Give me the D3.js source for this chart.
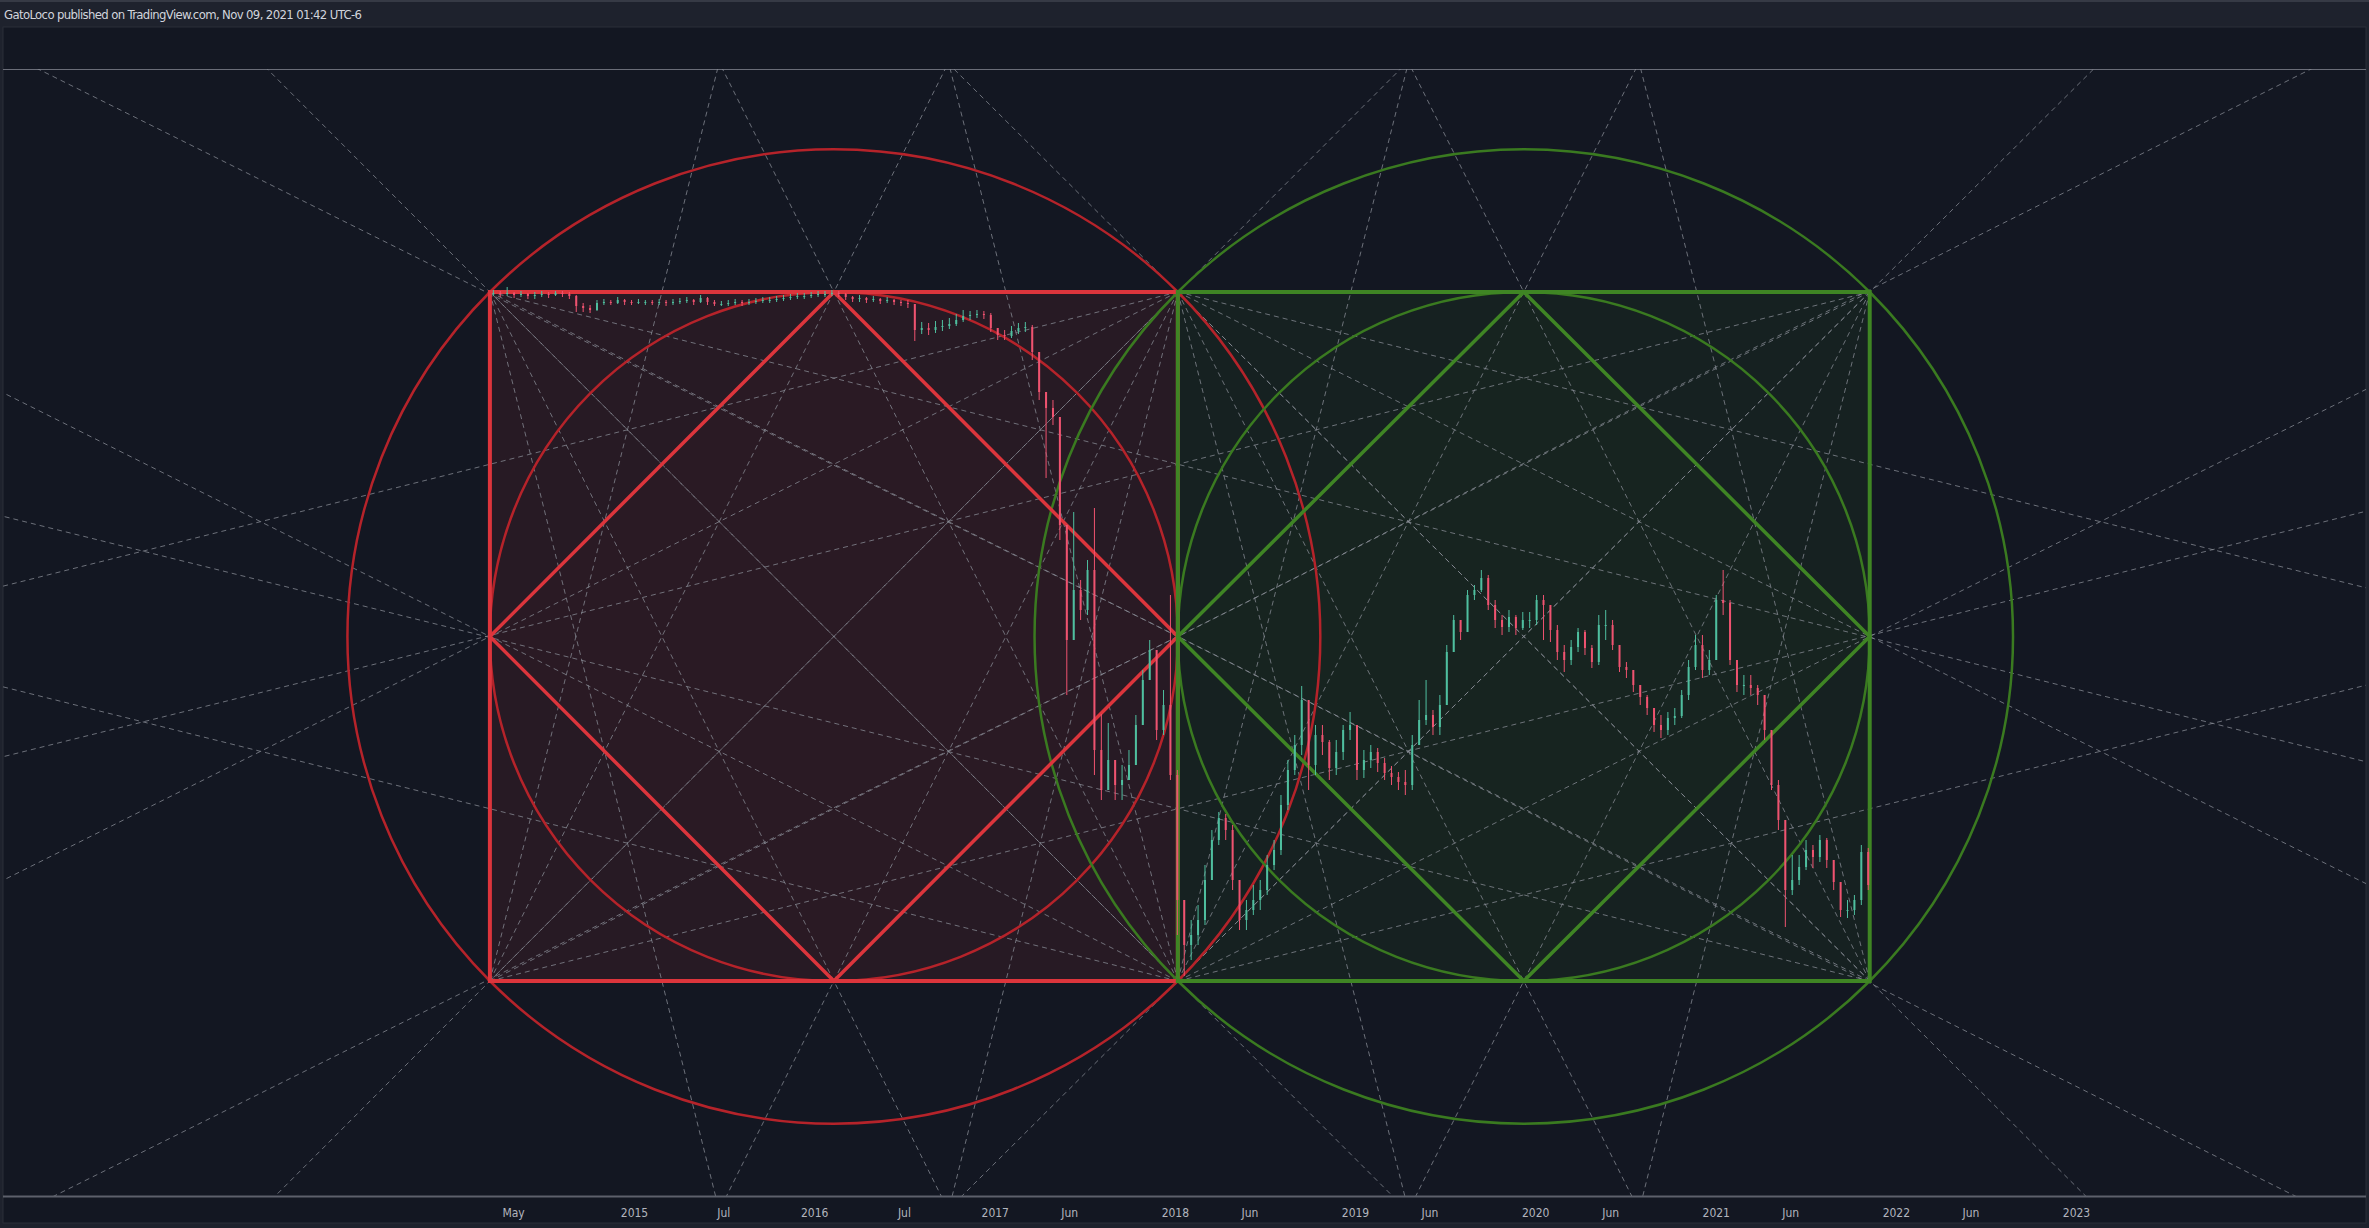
<!DOCTYPE html>
<html>
<head>
<meta charset="utf-8">
<script src="https://cdn.jsdelivr.net/npm/d3@7"></script>
<style>
  html, body { margin: 0; padding: 0; background: #131722; overflow: hidden; }
  svg { display: block; }
</style>
</head>
<body>
<script>
const width = 2369;
const height = 1228;

// time axis labels
const tickDates = ["2014-05-01", "2015-01-01", "2015-07-01", "2016-01-01", "2016-07-01", "2017-01-01",
  "2017-06-01", "2018-01-01", "2018-06-01", "2019-01-01", "2019-06-01", "2020-01-01",
  "2020-06-01", "2021-01-01", "2021-06-01", "2022-01-01", "2022-06-01", "2023-01-01"];
const tickLabels = ["May", "2015", "Jul", "2016", "Jul", "2017", "Jun", "2018", "Jun", "2019",
  "Jun", "2020", "Jun", "2021", "Jun", "2022", "Jun", "2023"];

// the two boxes: red one from boxDates[0] to [1], green one from [1] to [2]
const boxDates = ["2014-03-15", "2018-01-07", "2021-11-09"];
const boxPrices = [28.9, 97.8];
const fanRatios = [0.25, 0.5, 1];

// two-week candles (opens = previous close)
const candleStart = "2014-03-15";
const candleDays = 14;
const closes = [
  97.7, 97.6, 97.7, 97.5, 97.6, 97.4, 97.5, 97.6, 97.5, 97.7, 97.6, 97.4,
  96.4, 96.2, 96.0, 96.7, 96.8, 96.7, 97.0, 96.8, 96.7, 96.8, 96.8, 96.7,
  96.8, 96.7, 96.8, 96.9, 97.0, 96.8, 97.2, 96.8, 96.6, 96.6, 96.7, 96.8,
  96.7, 96.8, 96.9, 97.0, 97.0, 97.1, 97.2, 97.3, 97.4, 97.4, 97.5, 97.6,
  97.6, 97.7, 97.6, 97.3, 97.1, 97.2, 97.0, 97.1, 96.9, 97.0, 96.8, 96.7,
  96.6, 94.0, 94.2, 94.0, 94.3, 94.4, 94.6, 95.0, 95.4, 95.5, 95.6, 95.5,
  94.2, 93.5, 93.4, 93.9, 94.2, 94.3, 91.8, 87.8, 86.2, 85.3, 74.5, 63.0,
  68.0, 66.0, 70.0, 52.0, 48.0, 51.0, 48.5, 49.0, 50.5, 54.5, 59.0, 62.0,
  54.0, 56.5, 49.5, 37.0, 32.5, 33.5, 35.0, 39.0, 43.0, 45.2, 44.0, 39.0,
  35.0, 36.0, 37.0, 38.0, 40.5, 42.0, 46.5, 50.0, 52.5, 57.0, 50.5, 53.5,
  52.8, 50.2, 51.8, 54.0, 54.5, 50.0, 51.0, 51.8, 50.7, 49.7, 49.3, 48.8,
  48.5, 52.5, 55.0, 55.5, 54.3, 56.5, 61.8, 65.0, 63.8, 67.5, 68.0, 69.2,
  66.5, 65.0, 64.3, 65.3, 64.2, 65.0, 65.0, 67.0, 66.5, 64.0, 61.8, 61.0,
  62.3, 63.8, 62.2, 60.8, 64.5, 64.5, 62.5, 60.3, 60.0, 58.5, 57.3, 56.2,
  54.5, 54.0, 55.2, 55.4, 57.5, 60.3, 62.5, 60.0, 61.0, 67.0, 66.7, 61.0,
  58.5, 58.5, 58.2, 57.5, 54.0, 48.5, 45.0, 38.0, 39.0, 40.3, 42.0, 41.3,
  43.0, 41.0, 38.8, 36.0, 36.0, 37.0, 41.8, 38.5
];
const highs = [
  98.0, 97.9, 98.3, 97.8, 97.9, 97.7, 97.8, 97.9, 97.8, 97.9, 97.9, 97.8,
  97.5, 96.7, 96.5, 97.0, 97.1, 97.0, 97.3, 97.1, 97.0, 97.1, 97.0, 97.0,
  97.1, 97.0, 97.1, 97.2, 97.3, 97.1, 97.5, 97.3, 97.0, 96.9, 97.0, 97.1,
  97.0, 97.1, 97.2, 97.3, 97.3, 97.4, 97.5, 97.6, 97.7, 97.7, 97.8, 97.9,
  97.9, 98.0, 97.9, 97.7, 97.4, 97.5, 97.3, 97.4, 97.2, 97.3, 97.1, 97.0,
  97.0, 95.2, 94.8, 94.7, 94.9, 95.0, 95.2, 95.6, 96.0, 95.9, 96.0, 95.9,
  95.7, 94.2, 94.0, 94.4, 94.7, 94.8, 94.5, 89.5, 87.5, 87.0, 85.0, 71.0,
  75.8, 69.0, 71.0, 76.2, 55.6, 54.7, 51.0, 50.5, 52.0, 55.5, 60.0, 63.0,
  62.0, 58.0, 67.5, 50.0, 37.0, 35.0, 36.5, 40.5, 44.0, 45.8, 45.6, 44.5,
  39.0, 37.0, 38.5, 39.0, 41.5, 43.0, 47.5, 51.0, 53.5, 58.4, 57.0, 54.5,
  54.5, 53.0, 53.0, 54.5, 55.8, 54.5, 52.0, 52.5, 52.2, 51.2, 50.4, 49.8,
  50.0, 53.5, 57.0, 59.0, 56.0, 57.5, 62.5, 65.5, 65.0, 68.0, 68.5, 70.0,
  69.5, 67.0, 65.5, 66.0, 65.5, 65.8, 65.8, 67.5, 67.5, 65.0, 64.5, 62.5,
  63.0, 64.2, 64.0, 62.5, 65.5, 66.0, 65.0, 61.0, 60.8, 60.0, 58.5, 57.5,
  56.0, 55.5, 55.8, 56.2, 58.0, 61.0, 63.5, 63.5, 62.0, 67.5, 70.0, 67.0,
  61.0, 59.5, 59.5, 58.5, 57.0, 54.0, 49.0, 45.0, 41.5, 41.5, 43.0, 42.5,
  43.5, 43.2, 41.0, 38.5, 37.0, 37.5, 42.5, 42.2
];
const lows = [
  97.4, 97.3, 97.4, 97.2, 97.3, 97.1, 97.1, 97.3, 97.2, 97.4, 97.3, 97.1,
  95.8, 95.8, 95.7, 95.9, 96.5, 96.5, 96.6, 96.5, 96.5, 96.6, 96.5, 96.5,
  96.5, 96.4, 96.5, 96.6, 96.7, 96.5, 96.7, 96.5, 96.4, 96.4, 96.4, 96.5,
  96.4, 96.5, 96.6, 96.7, 96.7, 96.8, 96.9, 97.0, 97.1, 97.1, 97.2, 97.3,
  97.3, 97.4, 97.3, 97.0, 96.8, 96.8, 96.7, 96.8, 96.6, 96.7, 96.5, 96.4,
  96.2, 92.9, 93.6, 93.5, 93.7, 93.9, 94.1, 94.4, 94.8, 95.0, 95.2, 95.1,
  93.8, 93.0, 93.0, 93.2, 93.6, 93.8, 91.0, 87.0, 79.2, 84.5, 73.0, 57.5,
  66.0, 65.0, 65.5, 49.5, 47.0, 48.0, 47.0, 47.0, 49.0, 50.5, 55.5, 59.0,
  53.0, 53.5, 49.0, 33.5, 29.4, 31.0, 32.5, 34.5, 39.0, 42.5, 43.0, 38.0,
  34.0, 34.0, 35.5, 36.0, 37.5, 40.0, 41.5, 46.0, 49.5, 51.5, 48.0, 49.5,
  51.5, 49.0, 49.5, 51.0, 53.0, 49.0, 49.2, 50.2, 49.8, 49.0, 48.5, 48.0,
  47.5, 48.0, 52.5, 54.5, 53.5, 53.5, 56.5, 62.0, 63.0, 63.8, 67.0, 67.8,
  66.0, 64.2, 63.5, 63.8, 63.5, 64.0, 64.2, 64.5, 63.0, 62.8, 61.0, 59.8,
  60.5, 61.8, 61.5, 60.2, 60.5, 63.0, 62.0, 59.8, 59.2, 57.8, 56.5, 55.5,
  53.8, 53.2, 53.5, 54.5, 55.2, 57.0, 60.0, 59.2, 59.5, 61.0, 65.5, 60.5,
  57.8, 57.5, 57.5, 56.5, 53.0, 48.0, 44.0, 34.3, 37.5, 38.5, 40.0, 40.2,
  40.8, 40.2, 38.0, 35.3, 35.2, 35.5, 36.5, 38.0
];

const parse = d3.utcParse("%Y-%m-%d");
const pane = { left: 3, right: 2366, top: 27, bottom: 1197, drawTop: 69 };

const x = d3.scaleUtc()
  .domain([parse("2015-01-01"), parse("2023-01-01")])
  .range([634, 2076]);
const y = d3.scaleLinear()
  .domain(boxPrices)
  .range([981, 292]);

const svg = d3.select("body").append("svg")
  .attr("width", width)
  .attr("height", height);

// frame
svg.append("rect").attr("width", width).attr("height", height).attr("fill", "#1e222d");
svg.append("rect").attr("width", width).attr("height", 2).attr("fill", "#363a45");
svg.append("rect")
  .attr("x", pane.left).attr("y", pane.top)
  .attr("width", pane.right - pane.left).attr("height", height - 5 - pane.top)
  .attr("fill", "#131722")
  .attr("stroke", "#2a2e39");

svg.append("text")
  .attr("x", 4).attr("y", 19)
  .attr("fill", "#d1d4dc")
  .attr("font-family", "'Liberation Sans Narrow', 'DejaVu Sans Condensed', sans-serif")
  .attr("font-size", "13px")
  .attr("textLength", 358)
  .text("GatoLoco published on TradingView.com, Nov 09, 2021 01:42 UTC-6");

svg.append("defs").append("clipPath").attr("id", "plot")
  .append("rect")
  .attr("x", pane.left).attr("y", pane.drawTop)
  .attr("width", pane.right - pane.left).attr("height", pane.bottom - pane.drawTop);

svg.append("line")
  .attr("x1", pane.left).attr("x2", pane.right)
  .attr("y1", pane.drawTop + .5).attr("y2", pane.drawTop + .5)
  .attr("stroke", "#6a6d78");

const plot = svg.append("g").attr("clip-path", "url(#plot)");

const boxes = [
  { from: boxDates[0], to: boxDates[1], stroke: "#dc353c", ring: "#b5232a",
    fill: "rgba(217,54,62,0.10)", inner: "rgba(217,54,62,0.02)" },
  { from: boxDates[1], to: boxDates[2], stroke: "#3f8524", ring: "#3a7a20",
    fill: "rgba(60,140,35,0.09)", inner: "rgba(60,140,35,0.04)" }
];

boxes.forEach(b => {
  b.x0 = x(parse(b.from));
  b.x1 = x(parse(b.to));
  b.y0 = y(boxPrices[1]);
  b.y1 = y(boxPrices[0]);
  b.cx = (b.x0 + b.x1) / 2;
  b.cy = (b.y0 + b.y1) / 2;
});

// fills
const fills = plot.append("g");
boxes.forEach(b => {
  fills.append("rect")
    .attr("x", b.x0).attr("y", b.y0)
    .attr("width", b.x1 - b.x0).attr("height", b.y1 - b.y0)
    .attr("fill", b.fill);
  fills.append("polygon")
    .attr("points", [[b.cx, b.y0], [b.x1, b.cy], [b.cx, b.y1], [b.x0, b.cy]].join(" "))
    .attr("fill", b.inner);
});

// fan rays out of every corner, through the opposite sides
const rays = [];
boxes.forEach(b => {
  const corners = [[b.x0, b.y0], [b.x1, b.y0], [b.x1, b.y1], [b.x0, b.y1]];
  corners.forEach(([cx, cy], i) => {
    const [ox, oy] = corners[(i + 2) % 4];
    fanRatios.forEach(f => {
      rays.push([cx, cy, ox, cy + f * (oy - cy)]);
      if (f < 1) rays.push([cx, cy, cx + f * (ox - cx), oy]);
    });
  });
});

plot.append("g")
  .selectAll("line")
  .data(rays)
  .join("line")
  .attr("x1", d => d[0])
  .attr("y1", d => d[1])
  .attr("x2", d => d[0] + (d[2] - d[0]) * 6)
  .attr("y2", d => d[1] + (d[3] - d[1]) * 6)
  .attr("stroke", "#8a8d97")
  .attr("stroke-opacity", .75)
  .attr("stroke-width", 1)
  .attr("stroke-dasharray", "5,4");

// circles
boxes.forEach(b => {
  const rx = (b.x1 - b.x0) / 2, ry = (b.y1 - b.y0) / 2;
  [1, Math.SQRT2].forEach(k => {
    plot.append("ellipse")
      .attr("cx", b.cx).attr("cy", b.cy)
      .attr("rx", rx * k).attr("ry", ry * k)
      .attr("fill", "none")
      .attr("stroke", b.ring)
      .attr("stroke-width", 2.5);
  });
});

// box edges and diamonds
boxes.forEach(b => {
  plot.append("rect")
    .attr("x", b.x0).attr("y", b.y0)
    .attr("width", b.x1 - b.x0).attr("height", b.y1 - b.y0)
    .attr("fill", "none")
    .attr("stroke", b.stroke)
    .attr("stroke-width", 4);
  plot.append("polygon")
    .attr("points", [[b.cx, b.y0], [b.x1, b.cy], [b.cx, b.y1], [b.x0, b.cy]].join(" "))
    .attr("fill", "none")
    .attr("stroke", b.stroke)
    .attr("stroke-width", 3.5)
    .attr("stroke-linejoin", "miter");
});

// candles
const n = Math.min(closes.length, highs.length, lows.length);
const start = parse(candleStart);
const candles = d3.range(n).map(i => {
  const open = i ? closes[i - 1] : closes[i];
  const close = closes[i];
  return {
    date: d3.utcDay.offset(start, i * candleDays + candleDays / 2),
    open, close,
    high: Math.max(highs[i], open, close),
    low: Math.min(lows[i], open, close)
  };
});
const up = "#4fbf9f", down = "#ef5370";
const cg = plot.append("g");
cg.selectAll("line")
  .data(candles)
  .join("line")
  .attr("x1", d => x(d.date)).attr("x2", d => x(d.date))
  .attr("y1", d => y(d.high)).attr("y2", d => y(d.low))
  .attr("stroke", d => d.close >= d.open ? up : down)
  .attr("stroke-width", 1);
cg.selectAll("rect")
  .data(candles)
  .join("rect")
  .attr("x", d => x(d.date) - 1)
  .attr("width", 2)
  .attr("y", d => y(Math.max(d.open, d.close)))
  .attr("height", d => Math.max(1, Math.abs(y(d.open) - y(d.close))))
  .attr("fill", d => d.close >= d.open ? up : down);

// time axis
svg.append("line")
  .attr("x1", pane.left).attr("x2", pane.right)
  .attr("y1", pane.bottom - .5).attr("y2", pane.bottom - .5)
  .attr("stroke", "#5d606b")
  .attr("stroke-width", 2);

const xAxis = d3.axisBottom(x)
  .tickValues(tickDates.map(parse))
  .tickFormat((d, i) => tickLabels[i])
  .tickSize(0)
  .tickPadding(11);

svg.append("g")
  .attr("transform", `translate(0,${pane.bottom})`)
  .call(xAxis)
  .call(g => g.select(".domain").remove())
  .call(g => g.selectAll("text")
    .attr("fill", "#b2b5be")
    .attr("font-family", "'Liberation Sans Narrow', 'DejaVu Sans Condensed', sans-serif")
    .attr("font-size", "12px"));
</script>
</body>
</html>
